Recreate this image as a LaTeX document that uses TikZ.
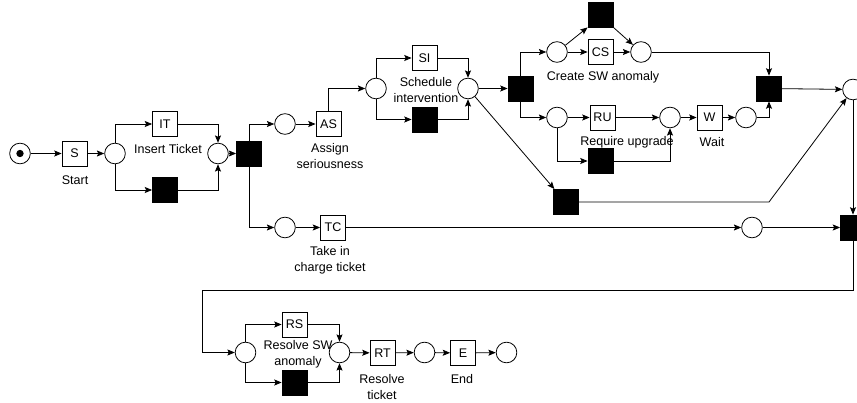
\documentclass[tikz,border=0pt]{standalone}
\usepackage{fontspec}
\setmainfont{Liberation Sans}
\usetikzlibrary{arrows.meta}
\begin{document}
\begin{tikzpicture}[x=0.75pt,y=-0.75pt,
  place/.style={circle,draw,line width=0.6pt,minimum size=15.5pt,inner sep=0pt},
  trans/.style={rectangle,draw,line width=0.6pt,minimum size=18.75pt,inner sep=0pt,font=\fontsize{9.4}{11}\selectfont},
  silent/.style={rectangle,draw,fill=black,line width=0.6pt,minimum size=18.75pt,inner sep=0pt},
  lbl/.style={align=center,inner sep=0pt,font=\fontsize{9.4}{12}\selectfont},
  arc/.style={line width=0.6pt,-{Stealth[length=5.5pt,width=4.5pt,inset=1pt]}},
  token/.style={circle,fill=black,minimum size=5.5pt,inner sep=0pt}]
\useasboundingbox (0,0) rectangle (857,403);
\clip (0,0) rectangle (857,403);

% --- opening: start and ticket insertion
\node[place] (p0) at (20,153.5) {};
\node[token] (tok) at (p0) {};
\node[trans] (S) at (74.5,153.5) {S};
\node[place] (p1) at (115,153.5) {};
\node[trans] (IT) at (165,124) {IT};
\node[silent] (b1) at (165,190) {};
\node[place] (p2) at (218,153.5) {};
\node[silent] (t1) at (249,153.5) {};

% --- seriousness and scheduling
\node[place] (p3) at (285,124) {};
\node[trans] (AS) at (328.5,124) {AS};
\node[place] (p4) at (376,88.5) {};
\node[trans] (SI) at (424.5,58) {SI};
\node[silent] (b2) at (424.5,119.5) {};
\node[place] (p5) at (468,88.5) {};
\node[silent] (t2) at (520.5,88.5) {};
\node[silent] (t3) at (565.5,202) {};

% --- anomaly creation and upgrade branch
\node[place] (p6) at (557,52) {};
\node[trans] (CS) at (600.5,52) {CS};
\node[silent] (t4) at (600.5,14.5) {};
\node[place] (p7) at (641,52) {};
\node[place] (p8) at (557,117.5) {};
\node[trans] (RU) at (602.5,117.5) {RU};
\node[silent] (t5) at (600.5,161) {};
\node[place] (p9) at (670,117.5) {};
\node[trans] (W) at (709.5,117.5) {W};
\node[place] (p10) at (746,117.5) {};
\node[silent] (t6) at (769,88.5) {};
\node[place] (p11) at (853,89.5) {};

% --- taking charge of the ticket
\node[place] (pTC) at (285,227.5) {};
\node[trans] (TC) at (333,227.5) {TC};
\node[place] (p12) at (752,227.5) {};
\node[silent] (t7) at (853,227.5) {};

% --- resolution and end
\node[place] (p13) at (245.5,352.5) {};
\node[trans] (RS) at (294.5,324.5) {RS};
\node[silent] (t8) at (294.5,382.5) {};
\node[place] (p14) at (339.5,352.5) {};
\node[trans] (RT) at (382.5,353) {RT};
\node[place] (p15) at (424.5,352.5) {};
\node[trans] (E) at (463,353) {E};
\node[place] (p16) at (506.5,352.5) {};

% bend points
\coordinate (k1) at (769,202);
\coordinate (k2) at (202,290);

% labels
\node[lbl] (lS) at (75,180) {Start};
\node[lbl] (lIT) at (168,149) {Insert Ticket};
\node[lbl] (lAS) at (330,156) {Assign\\seriousness};
\node[lbl] (lSI) at (426,90) {Schedule\\intervention};
\node[lbl] (lCS) at (603,77) {Create SW anomaly};
\node[lbl] (lRU) at (627,142) {Require upgrade};
\node[lbl] (lW) at (712,142) {Wait};
\node[lbl] (lTC) at (330,260) {Take in\\charge ticket};
\node[lbl] (lRS) at (298,354.5) {Resolve SW\\anomaly};
\node[lbl] (lRT) at (382,387.5) {Resolve\\ticket};
\node[lbl] (lE) at (462,379) {End};

% arcs
\draw[arc] (p0) -- (S);
\draw[arc] (S) -- (p1);
\draw[arc] (p1.north) |- (IT.west);
\draw[arc] (p1.south) |- (b1.west);
\draw[arc] (IT.east) -| (p2.north);
\draw[arc] (b1.east) -| (p2.south);
\draw[arc] (p2) -- (t1);
\draw[arc] (t1.north) |- (p3.west);
\draw[arc] (t1.south) |- (pTC.west);
\draw[arc] (p3) -- (AS);
\draw[arc] (AS.north) |- (p4.west);
\draw[arc] (p4.north) |- (SI.west);
\draw[arc] (p4.south) |- (b2.west);
\draw[arc] (SI.east) -| (p5.north);
\draw[arc] (b2.east) -| (p5.south);
\draw[arc] (p5) -- (t2);
\draw[arc] (p5) -- (t3);
\draw[arc] (t2.north) |- (p6.west);
\draw[arc] (t2.south) |- (p8.west);
\draw[arc] (p6) -- (CS);
\draw[arc] (CS) -- (p7);
\draw[arc] (p6) -- (t4.south west);
\draw[arc] (t4.south east) -- (p7);
\draw[arc] (p8) -- (RU);
\draw[arc] (RU) -- (p9);
\draw[arc] (p8.south) |- (t5.west);
\draw[arc] (t5.east) -| (p9.south);
\draw[arc] (p9) -- (W);
\draw[arc] (W) -- (p10);
\draw[arc] (p7.east) -| (t6.north);
\draw[arc] (p10.east) -| (t6.south);
\draw[arc] (t6) -- (p11);
\draw[arc] (t3.east) -- (k1) -- (p11);
\draw[arc] (p11) -- (t7);
\draw[arc] (pTC) -- (TC);
\draw[arc] (TC) -- (p12);
\draw[arc] (p12) -- (t7);
\draw[arc] (t7.south) |- (k2) |- (p13.west);
\draw[arc] (p13.north) |- (RS.west);
\draw[arc] (p13.south) |- (t8.west);
\draw[arc] (RS.east) -| (p14.north);
\draw[arc] (t8.east) -| (p14.south);
\draw[arc] (p14) -- (RT);
\draw[arc] (RT) -- (p15);
\draw[arc] (p15) -- (E);
\draw[arc] (E) -- (p16);
\end{tikzpicture}
\end{document}
